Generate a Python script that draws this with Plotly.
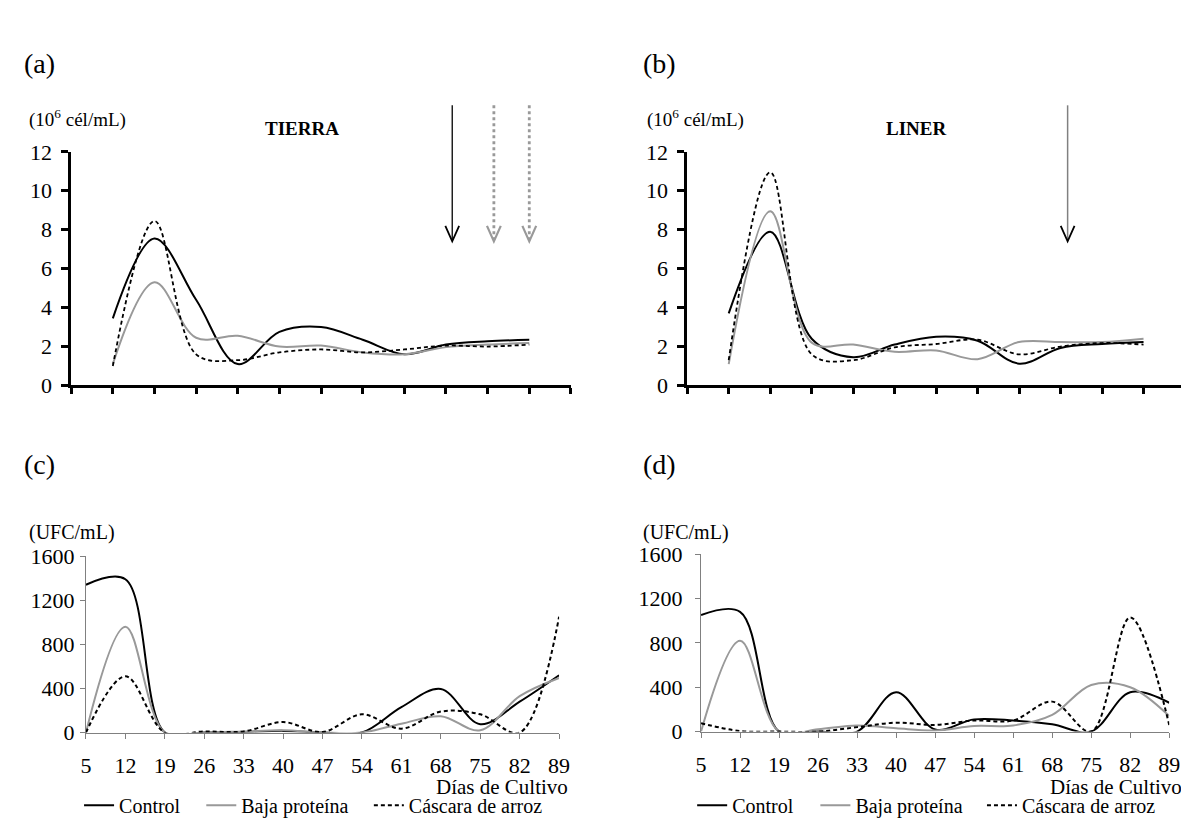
import plotly.graph_objects as go

W, H = 1189, 818

# ---------------- data ----------------
muestreos = list(range(1, 12))          # sampling positions (top panels)
tierra_control = [3.45, 7.55, 4.4, 1.1, 2.75, 3.0, 2.35, 1.6, 2.1, 2.27, 2.35]
tierra_baja = [1.1, 5.3, 2.45, 2.55, 2.0, 2.05, 1.7, 1.6, 1.97, 2.1, 2.18]
tierra_cascara = [1.0, 8.45, 1.6, 1.3, 1.7, 1.85, 1.7, 1.85, 2.05, 2.0, 2.1]

liner_control = [3.7, 7.9, 2.4, 1.45, 2.1, 2.5, 2.3, 1.12, 1.93, 2.13, 2.23]
liner_baja = [1.1, 8.95, 2.2, 2.1, 1.73, 1.8, 1.35, 2.23, 2.23, 2.23, 2.4]
liner_cascara = [1.3, 10.95, 1.6, 1.3, 1.96, 2.13, 2.35, 1.6, 2.0, 2.18, 2.1]

dias = [5, 12, 19, 26, 33, 40, 47, 54, 61, 68, 75, 82, 89]
c_control = [1340, 1390, 0, 0, 5, 15, 0, 0, 230, 395, 75, 280, 520]
c_baja = [0, 960, 0, 0, 10, 20, 0, 0, 80, 148, 20, 330, 495]
c_cascara = [0, 510, 0, 10, 10, 95, 5, 165, 35, 190, 165, 0, 1050]

d_control = [1050, 1080, 0, 0, 0, 355, 20, 110, 100, 65, 0, 355, 260]
d_baja = [0, 820, 0, 20, 55, 30, 10, 50, 55, 150, 420, 400, 140]
d_cascara = [75, 5, 0, 0, 40, 80, 60, 100, 100, 270, 0, 1030, 60]

series_names = ["Control", "Baja proteína", "Cáscara de arroz"]
flechas_tierra = [9.15, 10.15, 11.0]
flechas_liner = [9.17]
flecha_punta = 7.4

# ---------------- layout helpers ----------------
def hx(p):
    return p / W

def vy(p):
    return 1 - p / H

FONT = "Liberation Serif, Tinos, Times New Roman, DejaVu Serif, serif"
BLACK = "#000000"
GRAY = "#999999"
AXGRAY = "#808080"

dom = {
    "a": ((58, 565), (136, 377)),
    "b": ((683, 1188), (136, 377)),
    "c": ((73, 553), (553, 735)),
    "d": ((697, 1172), (551, 734)),
}

def xdom(k):
    (x0, x1), _ = dom[k]
    return [hx(x0), hx(x1)]

def ydom(k):
    _, (y0, y1) = dom[k]
    return [vy(y1), vy(y0)]

fig = go.Figure()

styles = [
    dict(color=BLACK, width=2.0, dash="solid"),
    dict(color=GRAY, width=2.0, dash="solid"),
    dict(color=BLACK, width=1.8, dash="4px,3px"),
]

top_sets = [("x", "y", [tierra_control, tierra_baja, tierra_cascara]),
            ("x2", "y2", [liner_control, liner_baja, liner_cascara])]
for xa, ya, sets in top_sets:
    for name, vals, st in zip(series_names, sets, styles):
        fig.add_trace(go.Scatter(
            x=muestreos, y=vals, mode="lines", name=name, xaxis=xa, yaxis=ya,
            line=dict(color=st["color"], width=st["width"], dash=st["dash"],
                      shape="spline", smoothing=1.0),
            showlegend=False, hoverinfo="skip"))

bot_sets = [("x3", "y3", [c_control, c_baja, c_cascara], ["legend", "legend2", "legend3"]),
            ("x4", "y4", [d_control, d_baja, d_cascara], ["legend4", "legend5", "legend6"])]
for xa, ya, sets, legs in bot_sets:
    for name, vals, st, lg in zip(series_names, sets, styles, legs):
        fig.add_trace(go.Scatter(
            x=dias, y=vals, mode="lines", name=name, xaxis=xa, yaxis=ya,
            line=dict(color=st["color"], width=2.0, dash=st["dash"],
                      shape="spline", smoothing=1.0),
            showlegend=True, legend=lg, hoverinfo="skip"))

tickfont = dict(family=FONT, size=22, color=BLACK)

top_x = dict(range=[0, 12], tickvals=list(range(13)), showticklabels=False,
             ticks="outside", ticklen=6, tickwidth=2.5, tickcolor=BLACK,
             showline=True, linewidth=2.5, linecolor=BLACK,
             showgrid=False, zeroline=False, fixedrange=True)
top_y = dict(range=[0, 12], tick0=0, dtick=2, ticks="outside", ticklen=7,
             tickwidth=2.5, tickcolor=BLACK, showline=True, linewidth=2.5,
             linecolor=BLACK, showgrid=False, zeroline=False, tickfont=tickfont,
             ticklabelstandoff=5)
bot_x = dict(range=[5, 89], tickvals=dias, ticktext=[str(d) for d in dias],
             ticks="outside", ticklen=5, tickwidth=1.3, tickcolor=AXGRAY,
             showline=True, linewidth=1.3, linecolor=AXGRAY, showgrid=False,
             zeroline=False, tickfont=tickfont, ticklabelstandoff=8)
bot_y = dict(range=[0, 1600], tick0=0, dtick=400, ticks="outside", ticklen=5,
             tickwidth=1.3, tickcolor=AXGRAY, showline=True, linewidth=1.3,
             linecolor=AXGRAY, showgrid=False, zeroline=False, tickfont=tickfont)

fig.update_layout(
    width=W, height=H, margin=dict(l=0, r=0, t=0, b=0),
    paper_bgcolor="white", plot_bgcolor="rgba(0,0,0,0)",
    font=dict(family=FONT, size=20, color=BLACK),
    xaxis=dict(top_x, domain=xdom("a"), anchor="y"),
    yaxis=dict(top_y, domain=ydom("a"), anchor="x"),
    xaxis2=dict(top_x, domain=xdom("b"), anchor="y2"),
    yaxis2=dict(top_y, domain=ydom("b"), anchor="x2"),
    xaxis3=dict(bot_x, domain=xdom("c"), anchor="y3"),
    yaxis3=dict(bot_y, domain=ydom("c"), anchor="x3", ticklabelstandoff=1),
    xaxis4=dict(bot_x, domain=xdom("d"), anchor="y4"),
    yaxis4=dict(bot_y, domain=ydom("d"), anchor="x4", ticklabelstandoff=8),
)

# legends, one per entry, placed like the original
leg_pos = {"legend": 66, "legend2": 190, "legend3": 360,
           "legend4": 688, "legend5": 813, "legend6": 982}
for lg, xp in leg_pos.items():
    fig.update_layout({lg: dict(x=hx(xp), y=vy(810), xanchor="left", yanchor="middle",
                                orientation="h", bgcolor="rgba(0,0,0,0)",
                                borderwidth=0, font=dict(family=FONT, size=20, color=BLACK),
                                itemwidth=30, itemclick=False, itemdoubleclick=False)})

# ---------------- text ----------------
def txt(x, y, s, size, xanchor="left"):
    fig.add_annotation(x=hx(x), y=vy(y), xref="paper", yref="paper", text=s,
                       showarrow=False, xanchor=xanchor, yanchor="middle",
                       font=dict(family=FONT, size=size, color=BLACK))

txt(8, 45, "(a)", 28)
txt(636, 45, "(b)", 28)
txt(8, 458, "(c)", 28)
txt(636, 458, "(d)", 28)
txt(13, 102, "(10<sup>6</sup> cél/mL)", 19)
txt(640, 102, "(10<sup>6</sup> cél/mL)", 19)
txt(292, 112, "<b>TIERRA</b>", 19, "center")
txt(915, 112, "<b>LINER</b>", 19, "center")
txt(13, 529, "(UFC/mL)", 20)
txt(636, 529, "(UFC/mL)", 20)
txt(564, 791, "Días de Cultivo", 21, "right")
txt(1187, 791, "Días de Cultivo", 21, "right")

# ---------------- arrows ----------------
def arrow(panel, pos, shaft_color, shaft_width, shaft_dash, head_color, head_width):
    xd = xdom(panel)
    yd = ydom(panel)
    xp = xd[0] + pos / 12 * (xd[1] - xd[0])
    ytip = yd[0] + flecha_punta / 12 * (yd[1] - yd[0])
    ytop = vy(88)
    fig.add_shape(type="line", xref="paper", yref="paper", x0=xp, x1=xp,
                  y0=ytop, y1=ytip + 2 / H,
                  line=dict(color=shaft_color, width=shaft_width, dash=shaft_dash))
    dx = 7 / W
    dy = 16 / H
    path = f"M {xp - dx},{ytip + dy} L {xp},{ytip} L {xp + dx},{ytip + dy}"
    fig.add_shape(type="path", xref="paper", yref="paper", path=path,
                  line=dict(color=head_color, width=head_width))

arrow("a", flechas_tierra[0], BLACK, 1.3, "solid", BLACK, 1.8)
arrow("a", flechas_tierra[1], GRAY, 2.8, "dot", GRAY, 2.2)
arrow("a", flechas_tierra[2], GRAY, 2.8, "dot", GRAY, 2.2)
arrow("b", flechas_liner[0], AXGRAY, 1.5, "solid", BLACK, 1.8)

fig.write_html("out.html")
